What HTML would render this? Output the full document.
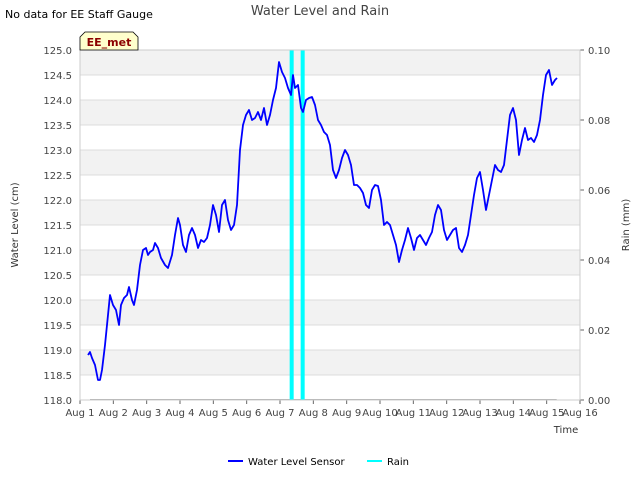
<!DOCTYPE html>
<html><head><meta charset="utf-8"><style>
body{margin:0;background:#fff;font-family:"Liberation Sans","DejaVu Sans",sans-serif}
svg text{font-family:"DejaVu Sans","Liberation Sans",sans-serif}
</style></head><body>
<svg id="chart" width="640" height="480" xmlns="http://www.w3.org/2000/svg">
<text x="5" y="18" font-size="11" fill="#000">No data for EE Staff Gauge</text>
<text x="320" y="15" font-size="13" fill="#444" text-anchor="middle">Water Level and Rain</text>
<g id="bands"></g><g id="grid"></g><g id="rain"></g><g id="line"></g><g id="axes"></g>
<g>
<path d="M80,50 L80,37 L85,32 L133,32 L138,37 L138,50 Z" fill="#ffffcc" stroke="#000" stroke-width="0.8"/>
<text x="109" y="46" font-size="11" font-weight="bold" fill="#8b0000" text-anchor="middle">EE_met</text></g>
<text x="18" y="225" font-size="10" fill="#333" text-anchor="middle" transform="rotate(-90 18 225)">Water Level (cm)</text>
<text x="629" y="225" font-size="10" fill="#333" text-anchor="middle" transform="rotate(-90 629 225)">Rain (mm)</text>
<text x="566" y="433" font-size="10" fill="#333" text-anchor="middle">Time</text>
<g>
<g><line x1="228" y1="461" x2="243" y2="461" stroke="#0000ff" stroke-width="2"/><text x="248" y="465" font-size="10">Water Level Sensor</text></g>
<g><line x1="367" y1="461" x2="382" y2="461" stroke="#00ffff" stroke-width="2"/><text x="387" y="465" font-size="10">Rain</text></g>
</g>
</svg>
<script>
const days=[0.24,0.30,0.36,0.45,0.54,0.60,0.66,0.75,0.84,0.90,0.99,1.08,1.17,1.23,1.32,1.41,1.47,1.56,1.62,1.71,1.80,1.89,1.98,2.04,2.10,2.19,2.25,2.34,2.43,2.55,2.64,2.76,2.85,2.94,3.00,3.09,3.18,3.27,3.36,3.45,3.54,3.63,3.72,3.81,3.90,3.99,4.08,4.17,4.26,4.35,4.44,4.53,4.62,4.71,4.80,4.89,4.98,5.07,5.16,5.25,5.34,5.43,5.52,5.61,5.70,5.79,5.88,5.97,6.06,6.15,6.24,6.33,6.39,6.45,6.54,6.63,6.69,6.78,6.87,6.96,7.05,7.14,7.23,7.32,7.41,7.50,7.59,7.68,7.77,7.86,7.95,8.04,8.13,8.22,8.31,8.40,8.49,8.58,8.67,8.76,8.85,8.94,9.03,9.12,9.21,9.30,9.39,9.48,9.57,9.66,9.75,9.84,9.93,10.02,10.11,10.20,10.29,10.38,10.47,10.56,10.65,10.74,10.83,10.92,11.01,11.10,11.19,11.28,11.37,11.46,11.55,11.64,11.73,11.82,11.91,12.00,12.09,12.18,12.27,12.36,12.45,12.54,12.63,12.72,12.81,12.90,12.99,13.08,13.17,13.26,13.35,13.44,13.53,13.62,13.71,13.80,13.89,13.98,14.07,14.16,14.25,14.31];
const levels=[118.90,118.96,118.84,118.70,118.40,118.40,118.60,119.10,119.70,120.10,119.90,119.80,119.50,119.90,120.04,120.10,120.26,120.00,119.90,120.20,120.70,121.00,121.04,120.90,120.96,121.00,121.14,121.04,120.84,120.70,120.64,120.90,121.30,121.64,121.50,121.10,120.96,121.30,121.44,121.30,121.04,121.20,121.16,121.24,121.50,121.90,121.70,121.36,121.90,122.00,121.60,121.40,121.50,121.90,123.00,123.50,123.70,123.80,123.60,123.64,123.76,123.60,123.84,123.50,123.70,124.00,124.24,124.76,124.56,124.44,124.24,124.10,124.50,124.24,124.30,123.84,123.76,124.00,124.04,124.06,123.90,123.60,123.50,123.36,123.30,123.10,122.60,122.44,122.60,122.84,123.00,122.90,122.70,122.30,122.30,122.24,122.14,121.90,121.84,122.20,122.30,122.28,122.00,121.50,121.56,121.50,121.30,121.10,120.76,121.00,121.20,121.44,121.24,121.00,121.24,121.30,121.20,121.10,121.24,121.36,121.70,121.90,121.80,121.40,121.20,121.30,121.40,121.44,121.04,120.96,121.10,121.30,121.70,122.10,122.44,122.56,122.20,121.80,122.10,122.40,122.70,122.60,122.56,122.70,123.20,123.70,123.84,123.60,122.90,123.20,123.44,123.20,123.24,123.16,123.30,123.60,124.10,124.50,124.60,124.30,124.40,124.44];
const rainDays=[6.35,6.68];
const rainVals=[0.12,0.12];
const xLabels=["Aug 1","Aug 2","Aug 3","Aug 4","Aug 5","Aug 6","Aug 7","Aug 8","Aug 9","Aug 10","Aug 11","Aug 12","Aug 13","Aug 14","Aug 15","Aug 16"];
const yTicks=[118.0,118.5,119.0,119.5,120.0,120.5,121.0,121.5,122.0,122.5,123.0,123.5,124.0,124.5,125.0];
const y2Ticks=[0,0.02,0.04,0.06,0.08,0.10];

const L=80,R=580,T=50,B=400,NS="http://www.w3.org/2000/svg";
const X=d=>L+d*(R-L)/15, Y=v=>B-(v-118)*(B-T)/7, Y2=v=>B-v*(B-T)/0.1;
function mk(t,a,p){const e=document.createElementNS(NS,t);for(const k in a)e.setAttribute(k,a[k]);document.getElementById(p).appendChild(e);return e;}
for(let i=0;i<yTicks.length-1;i++){
  if(i%2===1){const r=mk('rect',{x:L,y:Y(yTicks[i+1]),width:R-L,height:Y(yTicks[i])-Y(yTicks[i+1]),fill:'#f2f2f2'},'bands');
  
  }
}
yTicks.forEach(v=>{
  const g=mk('line',{x1:L,x2:R,y1:Y(v),y2:Y(v),stroke:'#dcdcdc','stroke-width':1},'grid');
  
  
  const t=mk('text',{x:L-8,y:Y(v)+4,'font-size':10,fill:'#444','text-anchor':'end'},'axes');
  t.textContent=v.toFixed(1);
  
  
});
y2Ticks.forEach(v=>{
  mk('line',{x1:R,x2:R+4,y1:Y2(v),y2:Y2(v),stroke:'#666'},'axes');
  const t=mk('text',{x:R+8,y:Y2(v)+4,'font-size':10,fill:'#444'},'axes');
  t.textContent=v.toFixed(2);
  
  
});
xLabels.forEach((s,i)=>{
  mk('line',{x1:X(i),x2:X(i),y1:B,y2:B+4,stroke:'#666'},'axes');
  const t=mk('text',{x:X(i),y:B+16,'font-size':10,fill:'#444','text-anchor':'middle'},'axes');
  t.textContent=s;
  
  
});
mk('rect',{x:L,y:T,width:R-L,height:B-T,fill:'none',stroke:'#ccc'},'axes');
const z=mk('line',{x1:X(0.3),x2:X(14.3),y1:Y2(0)-0.5,y2:Y2(0)-0.5,stroke:'#aaa','stroke-width':1},'rain');


rainDays.forEach((d,i)=>{
  const top=Math.max(T,Y2(rainVals[i]));
  const b=mk('rect',{x:X(d)-2,y:top,width:4,height:B-top,fill:'#00ffff'},'rain');
  
  
});
const p=mk('polyline',{points:days.map((d,i)=>X(d).toFixed(1)+','+Y(levels[i]).toFixed(1)).join(' '),fill:'none',stroke:'#0000ff','stroke-width':1.8,'stroke-linejoin':'round'},'line');


</script>
</body></html>
